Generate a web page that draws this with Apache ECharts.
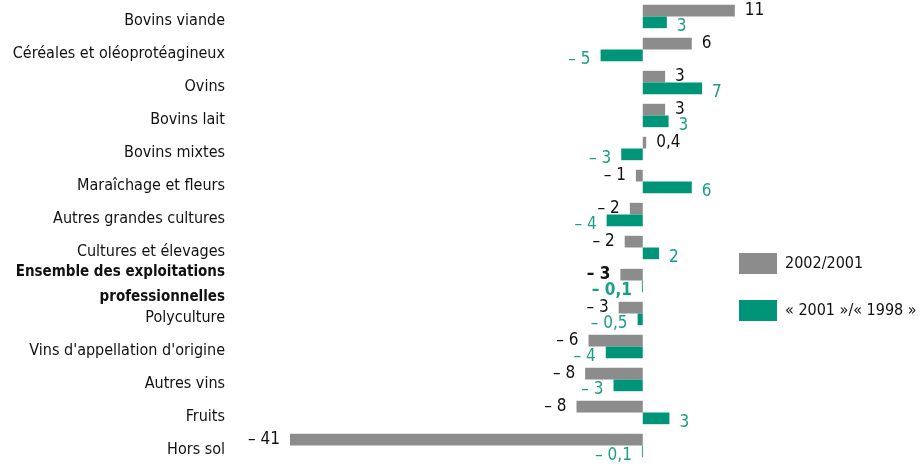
<!DOCTYPE html>
<html><head><meta charset="utf-8">
<script src="https://cdn.jsdelivr.net/npm/echarts@6/dist/echarts.min.js"></script>
<style>html,body{margin:0;padding:0;background:#fff}#c{width:921px;height:468px}</style>
</head><body><div id="c"></div>
<script>
const categories = ['Bovins viande','Céréales et oléoprotéagineux','Ovins','Bovins lait','Bovins mixtes','Maraîchage et fleurs','Autres grandes cultures','Cultures et élevages','Ensemble des exploitations\nprofessionnelles','Polyculture',"Vins d'appellation d'origine",'Autres vins','Fruits','Hors sol'];
const boldIndex = 8;
const seriesNames = ['2002/2001','« 2001 »/« 1998 »'];
const values2002 = [10.7, 5.7, 2.6, 2.6, 0.4, -0.8, -1.5, -2.1, -2.6, -2.8, -6.3, -6.7, -7.7, -41];
const values2001 = [2.8, -4.9, 6.9, 3.0, -2.5, 5.7, -4.2, 1.9, -0.1, -0.6, -4.3, -3.4, 3.1, -0.1];
const labels2002 = ['11','6','3','3','0,4','– 1','– 2','– 2','– 3','– 3','– 6','– 8','– 8','– 41'];
const labels2001 = ['3','– 5','7','3','– 3','6','– 4','2','– 0,1','– 0,5','– 4','– 3','3','– 0,1'];

const FONT = '"DejaVu Sans Condensed","Liberation Sans",sans-serif';
const GRAY = '#8c8c8c', TEAL = '#009478', TEAL_TXT = '#1a9e84';

function mk(vals, labs, txtColor, offY) {
  return vals.map((v, i) => ({
    value: v,
    label: {
      show: true,
      position: v >= 0 ? 'right' : 'left',
      distance: 10,
      offset: [0, offY],
      formatter: labs[i],
      color: txtColor,
      fontFamily: FONT,
      fontSize: 17,
      fontWeight: i === boldIndex ? 'bold' : 'normal'
    }
  }));
}

const chart = echarts.init(document.getElementById('c'), null, {renderer: 'canvas'});
chart.setOption({
  animation: false,
  grid: {left: 290, top: 0, width: 456, height: 462, containLabel: false, outerBoundsMode: 'none'},
  legend: {
    orient: 'vertical', left: 734, top: 248, itemWidth: 38, itemHeight: 21, itemGap: 26,
    icon: 'rect',
    textStyle: {fontFamily: FONT, fontSize: 16, color: '#111', padding: [0, 0, 0, 3]},
    data: seriesNames
  },
  xAxis: {type: 'value', min: -41, max: 12, show: false},
  yAxis: {
    type: 'category', inverse: true, data: categories,
    axisLine: {show: false}, axisTick: {show: false},
    axisLabel: {
      margin: 65, fontFamily: FONT, fontSize: 16, color: '#111', lineHeight: 25,
      padding: [8, 0, 0, 0],
      formatter: (v, i) => i === boldIndex ? v.split('\n').map(s => '{b|' + s + '}').join('\n') : v,
      rich: {b: {fontFamily: FONT, fontSize: 15, fontWeight: 'bold', color: '#111', lineHeight: 25}}
    }
  },
  series: [
    {name: seriesNames[0], type: 'bar', barWidth: 11.7, barGap: '0%', itemStyle: {color: GRAY}, data: mk(values2002, labels2002, '#111', 0)},
    {name: seriesNames[1], type: 'bar', barWidth: 11.7, barGap: '0%', itemStyle: {color: TEAL}, data: mk(values2001, labels2001, TEAL_TXT, 4)}
  ]
});
</script></body></html>
